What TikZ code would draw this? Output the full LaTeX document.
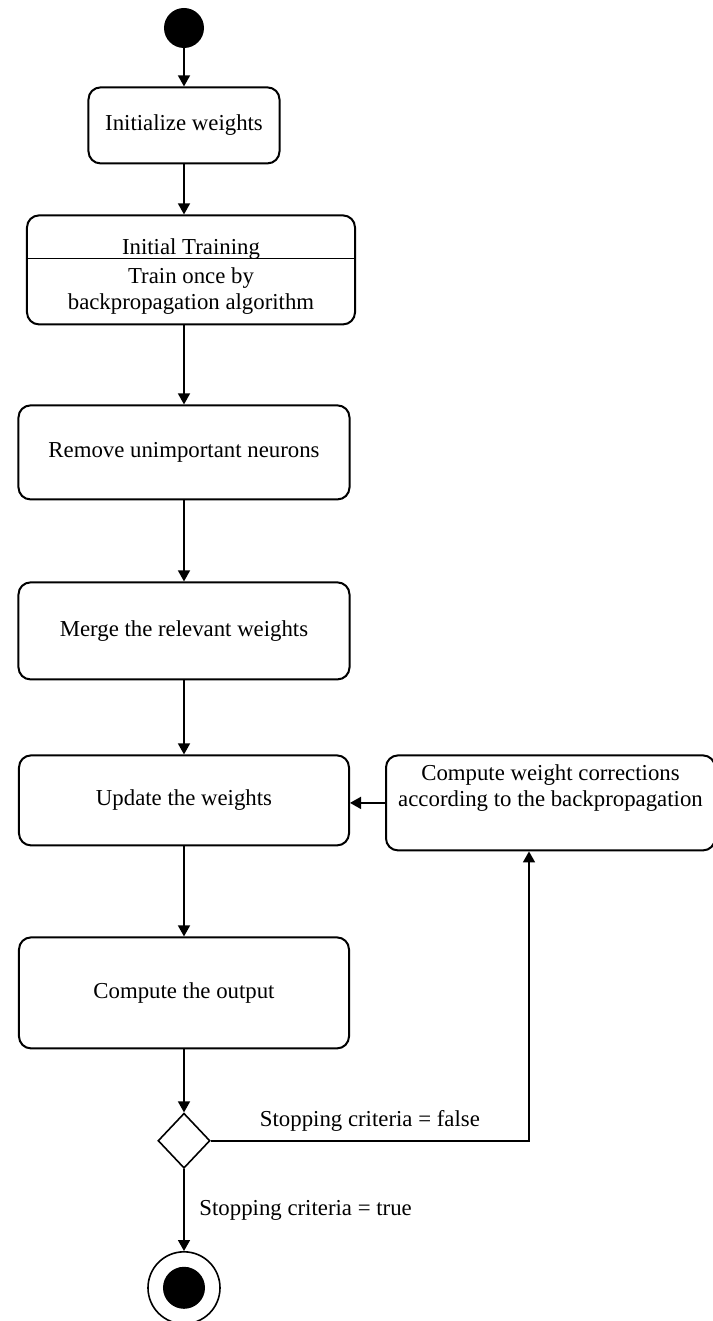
\documentclass[tikz,border=0pt]{standalone}
\usepackage{fontspec}
\setmainfont{Liberation Serif}
\usetikzlibrary{positioning}
\usetikzlibrary{shapes.geometric}
\usetikzlibrary{arrows.meta}

\begin{document}
\begin{tikzpicture}[
	font=\fontsize{11.4}{13}\selectfont,
	act/.style={draw, rounded corners=6pt, line width=1pt, minimum width=165.5pt, inner sep=3pt, align=center},
	flow/.style={line width=0.8pt, -{Triangle[length=5.5pt,width=6pt]}}]
	 \useasboundingbox (-92pt,14pt) rectangle (264pt,-646.5pt);
	 \node [circle, fill, minimum size=20pt, inner sep=0pt] (start) {};
	 \node [act, below=19pt of start, minimum width=95.5pt, minimum height=38pt] (init) {Initialize weights};
	 \node [act, below=25pt of init, xshift=3.5pt, minimum width=164pt, minimum height=54.5pt] (train)
		{\rule{0pt}{14.5pt}Initial Training\\[1.5pt]Train once by\\backpropagation algorithm};
	 \draw [line width=0.8pt] ([yshift=-22pt]train.north west) -- ([yshift=-22pt]train.north east);
	 \node [act, below=39.5pt of train, xshift=-3.5pt, minimum height=47pt] (remove) {Remove unimportant neurons};
	 \node [act, below=40.5pt of remove, minimum height=48.5pt] (merge) {Merge the relevant weights};
	 \node [act, below=37pt of merge, minimum width=165pt, minimum height=45pt] (update) {Update the weights};
	 \node [act, right=17.5pt of update.north east, anchor=north west, minimum width=164.5pt, minimum height=47.5pt] (correct)
		{Compute weight corrections\\according to the backpropagation\\\strut};
	 \node [act, below=45pt of update, minimum width=165pt, minimum height=55.5pt] (output) {Compute the output};
	 \node [diamond, draw, line width=0.8pt, aspect=1, inner sep=0pt, minimum width=26pt, minimum height=27.5pt, below=31.5pt of output] (check) {};
	 \node [circle, draw, line width=0.8pt, inner sep=0pt, minimum size=36pt, below=41pt of check,
		path picture={\fill (path picture bounding box.center) circle (10.5pt);}] (stop) {};
	 % main flow
	 \draw [flow] (start) -- (init);
	 \draw [flow] (init) -- (init |- train.north);
	 \draw [flow] (init |- train.south) -- (remove);
	 \draw [flow] (remove) -- (merge);
	 \draw [flow] (merge) -- (update);
	 \draw [flow] (update) -- (output);
	 \draw [flow] (output) -- (check);
	 \draw [flow] (check) -- node[right, xshift=4pt]{Stopping criteria = true} (stop);
	 % loop back
	 \draw [flow] (check.east) -| node[pos=0.25, above, yshift=1pt]{Stopping criteria = false} ([xshift=-10.75pt]correct.south);
	 \draw [flow] (correct.west) -- (correct.west -| update.east);
 \end{tikzpicture}
\end{document}
